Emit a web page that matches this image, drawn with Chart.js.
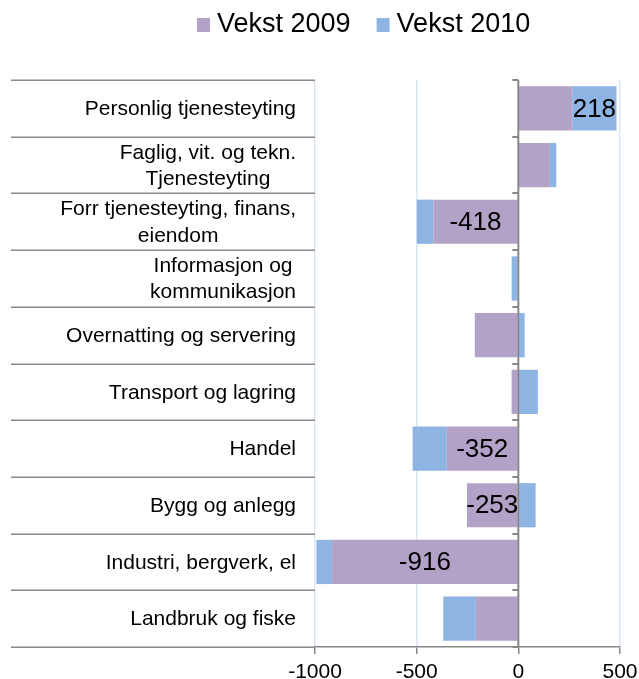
<!DOCTYPE html>
<html><head><meta charset="utf-8">
<script src="https://cdn.jsdelivr.net/npm/chart.js@4/dist/chart.umd.min.js"></script>
<style>html,body{margin:0;padding:0;background:#fff;}</style>
</head><body>
<canvas id="c" width="639" height="679"></canvas>
<script>
const categories = [
  ["Personlig tjenesteyting"],
  ["Faglig, vit. og tekn.", "Tjenesteyting"],
  ["Forr tjenesteyting, finans,", "eiendom"],
  ["Informasjon og", "kommunikasjon"],
  ["Overnatting og servering"],
  ["Transport og lagring"],
  ["Handel"],
  ["Bygg og anlegg"],
  ["Industri, bergverk, el"],
  ["Landbruk og fiske"]
];
const seriesNames = ["Vekst 2009", "Vekst 2010"];
const vekst2009 = [265, 155, -418, 0, -214, -33, -352, -253, -916, -209];
const vekst2010 = [218, 32, -81, -33, 31, 96, -168, 85, -77, -160];
const showLabel2009 = [false, false, true, false, false, false, true, true, true, false];
const showLabel2010 = [true, false, false, false, false, false, false, false, false, false];
const xTickValues = [-1000, -500, 0, 500];

const FONT = "'Liberation Sans', Arial, sans-serif";
const COLORS = ["#b3a2c7", "#8eb4e3"];

const overlay = {
  id: 'overlay',
  afterDatasetsDraw(chart) {
    const ctx = chart.ctx;
    const ca = chart.chartArea;
    const xs = chart.scales.x, ys = chart.scales.y;
    const n = chart.data.labels.length;
    const band = (ca.bottom - ca.top) / n;
    const x0 = xs.getPixelForValue(0);
    ctx.save();
    // separators on the label side
    ctx.strokeStyle = '#8a8a8a';
    ctx.lineWidth = 1.5;
    for (let i = 0; i <= n; i++) {
      const y = Math.round(ca.top + i * band) + 0.25;
      ctx.beginPath(); ctx.moveTo(11, y); ctx.lineTo(ca.left, y); ctx.stroke();
    }
    // zero axis line with small ticks
    ctx.strokeStyle = '#878787';
    ctx.lineWidth = 2;
    ctx.beginPath(); ctx.moveTo(x0, ca.top); ctx.lineTo(x0, ca.bottom); ctx.stroke();
    for (let i = 0; i <= n; i++) {
      const y = Math.round(ca.top + i * band);
      ctx.beginPath(); ctx.moveTo(x0 - 6, y); ctx.lineTo(x0, y); ctx.stroke();
    }
    // category labels (block right-aligned, lines centred)
    ctx.fillStyle = '#000';
    ctx.font = '21px ' + FONT;
    ctx.textBaseline = 'middle';
    ctx.textAlign = 'center';
    const right = ca.left - 19;
    chart.data.labels.forEach((lab, i) => {
      const lines = Array.isArray(lab) ? lab : [lab];
      const w = Math.max(...lines.map(l => ctx.measureText(l).width));
      const cx = right - w / 2;
      const cy = ys.getPixelForValue(i);
      lines.forEach((l, j) => {
        ctx.fillText(l, cx, cy + (j - (lines.length - 1) / 2) * 26.5 + 1);
      });
    });
    // data labels
    ctx.font = '26px ' + FONT;
    const flags = [showLabel2009, showLabel2010];
    chart.data.datasets.forEach((ds, di) => {
      const meta = chart.getDatasetMeta(di);
      meta.data.forEach((el, i) => {
        if (!flags[di][i]) return;
        const p = el.getCenterPoint();
        ctx.fillText(String(ds.data[i]), p.x, p.y + 1);
      });
    });
    // legend
    let lx = 197;
    ctx.font = '27px ' + FONT;
    ctx.textAlign = 'left';
    chart.data.datasets.forEach((ds, di) => {
      ctx.fillStyle = ds.backgroundColor;
      ctx.fillRect(lx, 18, 13, 14);
      ctx.fillStyle = '#000';
      ctx.fillText(ds.label, lx + 20, 25);
      lx += 20 + ctx.measureText(ds.label).width + 26;
    });
    ctx.restore();
  }
};

new Chart(document.getElementById('c'), {
  type: 'bar',
  data: {
    labels: categories,
    datasets: [
      { label: seriesNames[0], data: vekst2009, backgroundColor: COLORS[0], borderWidth: 0 },
      { label: seriesNames[1], data: vekst2010, backgroundColor: COLORS[1], borderWidth: 0 }
    ]
  },
  options: {
    indexAxis: 'y',
    responsive: false,
    animation: false,
    categoryPercentage: 0.78,
    barPercentage: 1,
    layout: { padding: { top: 80, right: 19, left: 0, bottom: 0 } },
    plugins: { legend: { display: false }, tooltip: { enabled: false } },
    scales: {
      x: {
        stacked: true, min: -1000, max: 500,
        afterBuildTicks: s => { s.ticks = xTickValues.map(v => ({ value: v })); },
        grid: {
          color: c => (c.tick && c.tick.value === 0) ? 'rgba(0,0,0,0)' : '#dce6f2',
          lineWidth: 1.5, tickColor: '#888', tickLength: 7, tickWidth: 1.5
        },
        border: { display: true, color: '#888', width: 1.5 },
        ticks: { font: { family: FONT, size: 21 }, color: '#000', padding: 6, maxRotation: 0,
                 callback: v => String(v) },
        afterFit: s => { s.height = 32; s.paddingLeft = 0; s.paddingRight = 0; }
      },
      y: {
        stacked: true,
        grid: { display: false },
        border: { display: false },
        ticks: { display: false },
        afterFit: s => { s.width = 315; }
      }
    }
  },
  plugins: [overlay]
});
</script>
</body></html>
